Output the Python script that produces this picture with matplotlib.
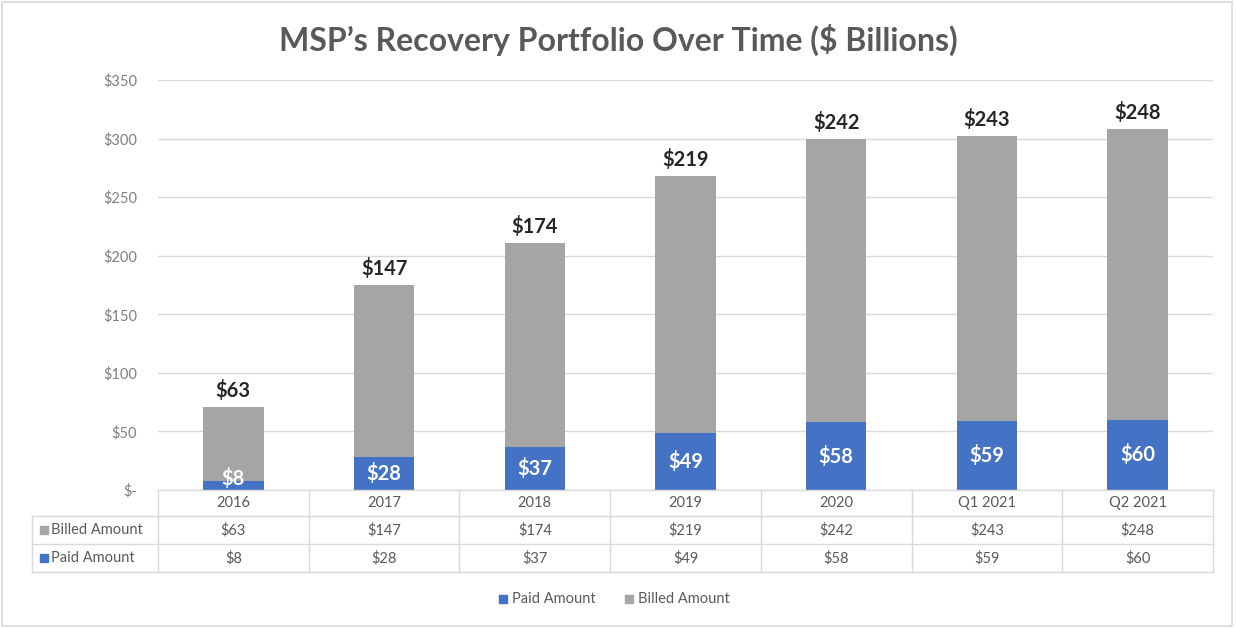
import matplotlib
matplotlib.use("Agg")
import matplotlib.pyplot as plt
from matplotlib.patches import Rectangle
from matplotlib.lines import Line2D
import numpy as np

categories = ["2016", "2017", "2018", "2019", "2020", "Q1 2021", "Q2 2021"]
paid = [8, 28, 37, 49, 58, 59, 60]
billed = [63, 147, 174, 219, 242, 243, 248]
yticks = [0, 50, 100, 150, 200, 250, 300, 350]
ytick_labels = ["$-", "$50", "$100", "$150", "$200", "$250", "$300", "$350"]

BLUE = "#4472C4"
GRAY = "#A5A5A5"
TXT = "#595959"
GRID = "#D9D9D9"
FONT = "Lato"

W, H = 1236, 628
fig = plt.figure(figsize=(W / 100, H / 100), dpi=100)
plt.rcParams['font.family'] = [FONT, 'DejaVu Sans']

def fx(px):
    return px / W

def fy(py):
    return 1 - py / H

# outer frame
fig.patches.append(Rectangle((fx(2), fy(626)), fx(1232) - fx(2), fy(2) - fy(626),
                             transform=fig.transFigure, fill=False,
                             edgecolor="#D9D9D9", lw=1.2))

left, right, top, bottom = 158, 1213, 80, 490
ax = fig.add_axes([fx(left), fy(bottom), fx(right) - fx(left), fy(top) - fy(bottom)])
x = np.arange(len(categories))
ax.set_xlim(-0.5, len(categories) - 0.5)
ax.set_ylim(0, 350)

ax.bar(x, paid, width=0.4, color=BLUE, zorder=3, label="Paid Amount")
ax.bar(x, billed, width=0.4, bottom=paid, color=GRAY, zorder=3, label="Billed Amount")

for xi, p, b in zip(x, paid, billed):
    ax.text(xi, p + b + 5, f"${b}", ha="center", va="bottom", fontsize=14.5,
            fontweight="bold", color="#262626", zorder=4)
    ax.text(xi, max(p / 2, 10), f"${p}", ha="center", va="center", fontsize=14.5,
            fontweight="bold", color="white", zorder=4)

ax.set_yticks(yticks)
ax.set_yticklabels(ytick_labels, fontsize=10.5, color="#7F7F7F")
ax.set_xticks([])
ax.tick_params(axis="y", length=0, pad=15)
ax.yaxis.grid(True, color=GRID, lw=1, zorder=0)
for s in ax.spines.values():
    s.set_visible(False)

# data table
row_lines = [490, 516, 544, 572]
tab_left = 32
lc = "#D9D9D9"
def hline(y, x0, x1):
    fig.add_artist(Line2D([fx(x0), fx(x1)], [fy(y), fy(y)], transform=fig.transFigure,
                          color=lc, lw=1))
def vline(xp, y0, y1):
    fig.add_artist(Line2D([fx(xp), fx(xp)], [fy(y0), fy(y1)], transform=fig.transFigure,
                          color=lc, lw=1))

hline(row_lines[0], left, right)
for y in row_lines[1:]:
    hline(y, tab_left, right)
vline(tab_left, row_lines[1], row_lines[3])
colw = (right - left) / len(categories)
for i in range(len(categories) + 1):
    vline(left + i * colw, row_lines[0], row_lines[3])

def rowmid(i):
    return (row_lines[i] + row_lines[i + 1]) / 2

TS = 10.5
for i, c in enumerate(categories):
    cx = left + (i + 0.5) * colw
    fig.text(fx(cx), fy(rowmid(0)), c, ha="center", va="center", fontsize=TS, color=TXT)
    fig.text(fx(cx), fy(rowmid(1)), f"${billed[i]}", ha="center", va="center", fontsize=TS, color=TXT)
    fig.text(fx(cx), fy(rowmid(2)), f"${paid[i]}", ha="center", va="center", fontsize=TS, color=TXT)

for i, (lab, col) in enumerate([("Billed Amount", GRAY), ("Paid Amount", BLUE)]):
    ym = rowmid(i + 1)
    fig.patches.append(Rectangle((fx(40), fy(ym + 4)), fx(8), 8 / H, transform=fig.transFigure,
                                 color=col))
    fig.text(fx(51), fy(ym), lab, ha="left", va="center", fontsize=TS, color=TXT)

# legend
for (mx, lab, col) in [(503, "Paid Amount", BLUE), (629, "Billed Amount", GRAY)]:
    fig.patches.append(Rectangle((fx(mx - 4), fy(603)), fx(8), 8 / H, transform=fig.transFigure,
                                 color=col))
    fig.text(fx(mx + 9), fy(599), lab, ha="left", va="center", fontsize=TS, color=TXT)

fig.text(0.5, fy(40), "MSP’s Recovery Portfolio Over Time ($ Billions)", ha="center",
         va="center", fontsize=23, fontweight="bold", color=TXT)

fig.savefig("out.png", dpi=100)
